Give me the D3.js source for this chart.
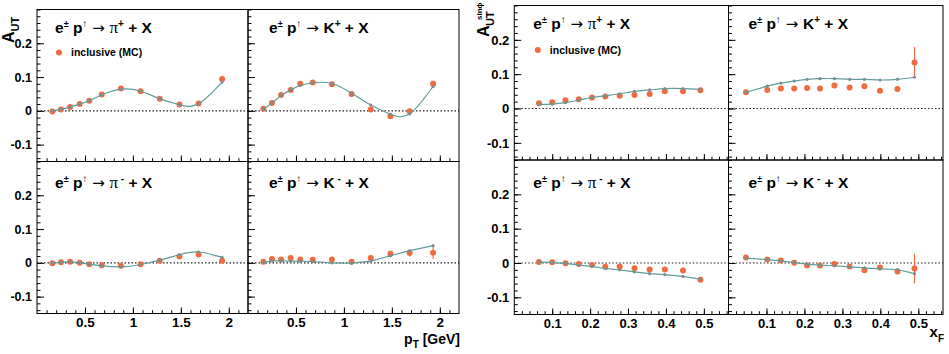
<!DOCTYPE html>
<html lang="en">
<head>
<meta charset="utf-8">
<title>A_UT vs pT and xF</title>
<script src="https://cdn.jsdelivr.net/npm/d3@7"></script>
<style>
  body { margin: 0; background: #fff; }
  svg { display: block; font-family: "Liberation Sans", Arial, sans-serif; font-weight: bold; }
</style>
</head>
<body>
<script>
// ---- data ----
var ptBins = [0.16, 0.25, 0.345, 0.445, 0.545, 0.675, 0.875, 1.08, 1.28, 1.485, 1.685, 1.93];
var xfBinsPi = [0.065, 0.1, 0.135, 0.17, 0.205, 0.24, 0.278, 0.317, 0.357, 0.397, 0.445, 0.491];
var xfBinsK = [0.046, 0.102, 0.138, 0.173, 0.207, 0.241, 0.279, 0.319, 0.358, 0.399, 0.445, 0.49];

// inclusive (MC) points and the curve through the grey markers
var piPlusPt = [-0.002, 0.004, 0.011, 0.020, 0.030, 0.048, 0.066, 0.058, 0.036, 0.019, 0.022, 0.094];
var piPlusPtErr = [0.002, 0.002, 0.002, 0.002, 0.002, 0.002, 0.002, 0.003, 0.003, 0.003, 0.004, 0.006];
var piPlusPtCurve = [-0.001, 0.005, 0.011, 0.020, 0.030, 0.047, 0.064, 0.058, 0.036, 0.018, 0.021, 0.085];

var kPlusPt = [0.006, 0.023, 0.047, 0.062, 0.080, 0.084, 0.079, 0.050, 0.004, -0.016, -0.001, 0.080];
var kPlusPtErr = [0.002, 0.002, 0.002, 0.002, 0.002, 0.002, 0.003, 0.003, 0.004, 0.005, 0.006, 0.009];
var kPlusPtCurve = [0.005, 0.023, 0.045, 0.062, 0.075, 0.083, 0.081, 0.052, 0.017, -0.010, -0.009, 0.072];

var piMinusPt = [-0.001, 0.002, 0.003, 0.0, -0.004, -0.007, -0.009, -0.004, 0.006, 0.019, 0.025, 0.006];
var piMinusPtErr = [0.002, 0.002, 0.002, 0.002, 0.002, 0.002, 0.002, 0.003, 0.003, 0.003, 0.004, 0.006];
var piMinusPtCurve = [-0.001, 0.002, 0.003, 0.0, -0.004, -0.009, -0.012, -0.005, 0.008, 0.024, 0.032, 0.016];

var kMinusPt = [0.003, 0.011, 0.010, 0.014, 0.010, 0.009, 0.010, 0.003, 0.014, 0.027, 0.029, 0.030];
var kMinusPtErr = [0.002, 0.002, 0.002, 0.002, 0.002, 0.002, 0.003, 0.003, 0.004, 0.006, 0.010, 0.018];
var kMinusPtCurve = [0.001, 0.006, 0.006, 0.005, 0.005, 0.004, 0.0, -0.001, 0.005, 0.021, 0.036, 0.051];

var piPlusXf = [0.015, 0.018, 0.024, 0.027, 0.032, 0.035, 0.037, 0.039, 0.042, 0.050, 0.050, 0.053];
var piPlusXfErr = [0.002, 0.002, 0.002, 0.002, 0.002, 0.002, 0.003, 0.003, 0.003, 0.003, 0.004, 0.006];
var piPlusXfCurve = [0.012, 0.013, 0.017, 0.024, 0.032, 0.037, 0.043, 0.050, 0.054, 0.058, 0.058, 0.056];

var kPlusXf = [0.047, 0.054, 0.058, 0.058, 0.060, 0.058, 0.067, 0.061, 0.065, 0.052, 0.057, 0.134];
var kPlusXfErr = [0.003, 0.004, 0.004, 0.004, 0.004, 0.004, 0.005, 0.005, 0.005, 0.006, 0.008, 0.045];
var kPlusXfCurve = [0.047, 0.065, 0.074, 0.080, 0.085, 0.087, 0.087, 0.085, 0.085, 0.083, 0.085, 0.091];

var piMinusXf = [0.003, 0.002, -0.001, -0.003, -0.006, -0.011, -0.010, -0.015, -0.019, -0.019, -0.022, -0.049];
var piMinusXfErr = [0.002, 0.002, 0.002, 0.002, 0.002, 0.002, 0.003, 0.003, 0.003, 0.003, 0.004, 0.005];
var piMinusXfCurve = [0.003, 0.001, -0.001, -0.006, -0.010, -0.016, -0.020, -0.026, -0.031, -0.034, -0.039, -0.047];

var kMinusXf = [0.016, 0.010, 0.007, 0.001, -0.007, -0.007, -0.003, -0.010, -0.021, -0.013, -0.025, -0.016];
var kMinusXfErr = [0.003, 0.003, 0.003, 0.003, 0.003, 0.003, 0.004, 0.004, 0.005, 0.005, 0.007, 0.043];
var kMinusXfCurve = [0.014, 0.010, 0.006, 0.001, -0.003, -0.006, -0.008, -0.011, -0.014, -0.017, -0.019, -0.031];

// tick labels
var yMajor = [-0.1, 0, 0.1, 0.2];
var yLabels = ["-0.1", "0", "0.1", "0.2"];
var ptMajor = [0.5, 1, 1.5, 2];
var ptLabels = ["0.5", "1", "1.5", "2"];
var xfMajor = [0.1, 0.2, 0.3, 0.4, 0.5];
var xfLabels = ["0.1", "0.2", "0.3", "0.4", "0.5"];

// ---- layout ----
var W = 949, H = 354;
var orange = "#f06b3f", teal = "#5f9c9c", grey = "#838c8c";

var blocks = {
  pt: { xs: [37, 248, 459], ys: [9.5, 161.5, 313.5], xdom: [0, 2.2],
        xMajor: ptMajor, xLabels: ptLabels, xMinor: d3.range(1, 22).map(function(i){ return i/10; }),
        fy: 12.5, fx: 13.5, titleX: [18, 21], titleY: [23, 26], leg: [22, 43] },
  xf: { xs: [514.3, 728.5, 943], ys: [5.5, 160, 314.5], xdom: [0, 0.565],
        xMajor: xfMajor, xLabels: xfLabels, xMinor: d3.range(1, 29).map(function(i){ return i/50; }),
        fy: 13, fx: 13, titleX: [19, 20], titleY: [23, 28], leg: [23.5, 44.5] }
};

var panels = [
  { b: "pt", c: 0, r: 0, p: "π", q: "+", x: ptBins, y: piPlusPt, e: piPlusPtErr, m: piPlusPtCurve, curve: d3.curveNatural, legend: true },
  { b: "pt", c: 1, r: 0, p: "K", q: "+", x: ptBins, y: kPlusPt, e: kPlusPtErr, m: kPlusPtCurve, curve: d3.curveNatural },
  { b: "pt", c: 0, r: 1, p: "π", q: "-", x: ptBins, y: piMinusPt, e: piMinusPtErr, m: piMinusPtCurve, curve: d3.curveNatural },
  { b: "pt", c: 1, r: 1, p: "K", q: "-", x: ptBins, y: kMinusPt, e: kMinusPtErr, m: kMinusPtCurve, curve: d3.curveLinear },
  { b: "xf", c: 0, r: 0, p: "π", q: "+", x: xfBinsPi, y: piPlusXf, e: piPlusXfErr, m: piPlusXfCurve, curve: d3.curveNatural, legend: true },
  { b: "xf", c: 1, r: 0, p: "K", q: "+", x: xfBinsK, y: kPlusXf, e: kPlusXfErr, m: kPlusXfCurve, curve: d3.curveNatural },
  { b: "xf", c: 0, r: 1, p: "π", q: "-", x: xfBinsPi, y: piMinusXf, e: piMinusXfErr, m: piMinusXfCurve, curve: d3.curveLinear },
  { b: "xf", c: 1, r: 1, p: "K", q: "-", x: xfBinsK, y: kMinusXf, e: kMinusXfErr, m: kMinusXfCurve, curve: d3.curveLinear }
];

var svg = d3.select("body").append("svg")
  .attr("width", W).attr("height", H);

panels.forEach(function(P) {
  var B = blocks[P.b];
  var x0 = B.xs[P.c], x1 = B.xs[P.c + 1], y0 = B.ys[P.r], y1 = B.ys[P.r + 1];
  var x = d3.scaleLinear().domain(B.xdom).range([x0, x1]);
  var y = d3.scaleLinear().domain([-0.15, 0.3]).range([y1, y0]);
  var g = svg.append("g");

  // zero line
  g.append("line")
    .attr("x1", x0).attr("x2", x1).attr("y1", y(0)).attr("y2", y(0))
    .attr("stroke", "#222").attr("stroke-width", 1.2).attr("stroke-dasharray", "1.5,2");

  // y axis: minor then major, ticks inside
  g.append("g").attr("transform", "translate(" + x0 + ",0)")
    .call(d3.axisLeft(y).tickValues(d3.range(-7, 16).map(function(i){ return i/50; }))
      .tickSize(-3.5).tickFormat(""))
    .call(function(s){ s.select(".domain").remove(); });
  var ya = g.append("g").attr("transform", "translate(" + x0 + ",0)")
    .call(d3.axisLeft(y).tickValues(yMajor).tickSize(-7).tickPadding(5)
      .tickFormat(function(d, i){ return P.c === 0 ? yLabels[i] : ""; }));
  ya.select(".domain").remove();
  ya.selectAll("text").attr("font-size", B.fy).attr("font-weight", "bold")
    .attr("font-family", "Liberation Sans, Arial, sans-serif").attr("fill", "#000");

  // x axis
  g.append("g").attr("transform", "translate(0," + y1 + ")")
    .call(d3.axisBottom(x).tickValues(B.xMinor).tickSize(-3.3).tickFormat(""))
    .call(function(s){ s.select(".domain").remove(); });
  var xa = g.append("g").attr("transform", "translate(0," + y1 + ")")
    .call(d3.axisBottom(x).tickValues(B.xMajor).tickSize(-6).tickPadding(4)
      .tickFormat(function(d, i){ return P.r === 1 ? B.xLabels[i] : ""; }));
  xa.select(".domain").remove();
  xa.selectAll("text").attr("font-size", B.fx).attr("font-weight", "bold")
    .attr("font-family", "Liberation Sans, Arial, sans-serif").attr("fill", "#000");

  // frame
  g.append("rect").attr("x", x0).attr("y", y0).attr("width", x1 - x0).attr("height", y1 - y0)
    .attr("fill", "none").attr("stroke", "#000").attr("stroke-width", 1);

  // MC points with error bars
  var pts = P.x.map(function(v, i){ return { x: v, y: P.y[i], e: P.e[i], m: P.m[i] }; });
  g.selectAll(".err").data(pts).enter().append("line")
    .attr("x1", function(d){ return x(d.x); }).attr("x2", function(d){ return x(d.x); })
    .attr("y1", function(d){ return y(d.y - d.e); }).attr("y2", function(d){ return y(d.y + d.e); })
    .attr("stroke", orange).attr("stroke-width", 1.2);
  g.selectAll(".dot").data(pts).enter().append("circle")
    .attr("cx", function(d){ return x(d.x); }).attr("cy", function(d){ return y(d.y); })
    .attr("r", 3).attr("fill", orange);

  // curve with grey markers
  g.append("path").datum(pts)
    .attr("d", d3.line().x(function(d){ return x(d.x); }).y(function(d){ return y(d.m); }).curve(P.curve))
    .attr("fill", "none").attr("stroke", teal).attr("stroke-width", 1.2);
  g.selectAll(".mk").data(pts).enter().append("circle")
    .attr("cx", function(d){ return x(d.x); }).attr("cy", function(d){ return y(d.m); })
    .attr("r", 1.6).attr("fill", grey);

  // title
  var t = g.append("text").attr("x", x0 + B.titleX[P.c]).attr("y", y0 + B.titleY[P.r])
    .attr("font-size", 15.5).attr("fill", "#000");
  t.append("tspan").text("e");
  t.append("tspan").attr("font-size", 9).attr("dy", -6).text("±");
  t.append("tspan").attr("dy", 6).text(" p");
  t.append("tspan").attr("font-size", 10).attr("font-weight", "normal").attr("dy", -6).text("↑");
  t.append("tspan").attr("dy", 6).attr("font-weight", "normal").attr("font-family", "DejaVu Sans").attr("font-size", 15).text(" → ");
  if (P.p === "π") {
    t.append("tspan").attr("font-family", "Liberation Serif, serif").attr("font-weight", "normal").attr("font-size", 17).text("π");
  } else {
    t.append("tspan").text("K");
  }
  t.append("tspan").attr("font-size", 10).attr("dy", -6).text(P.q === "+" ? "+" : " -");
  t.append("tspan").attr("dy", 6).text(" + X");

  // legend
  if (P.legend) {
    g.append("circle").attr("cx", x0 + B.leg[0]).attr("cy", y0 + B.leg[1]).attr("r", 3).attr("fill", orange);
    g.append("text").attr("x", x0 + B.leg[0] + 12).attr("y", y0 + B.leg[1] + 3.5)
      .attr("font-size", 10.5).text("inclusive (MC)");
  }
});

// axis titles
var yl = svg.append("text").attr("transform", "translate(14,43) rotate(-90)").attr("font-size", 16);
yl.append("tspan").text("A");
yl.append("tspan").attr("font-size", 11).attr("dy", 5).text("UT");

var yr = svg.append("g").attr("transform", "translate(489,37) rotate(-90)");
yr.append("text").attr("font-size", 16).text("A");
yr.append("text").attr("x", 11).attr("y", 5).attr("font-size", 11).text("UT");
yr.append("text").attr("x", 17).attr("y", -7).attr("font-size", 8).text("sinϕ");

var xl = svg.append("text").attr("x", 460).attr("y", 344).attr("text-anchor", "end").attr("font-size", 14);
xl.append("tspan").text("p");
xl.append("tspan").attr("font-size", 10).attr("dy", 4).text("T");
xl.append("tspan").attr("dy", -4).text(" [GeV]");

var xr = svg.append("text").attr("x", 944).attr("y", 337).attr("text-anchor", "end").attr("font-size", 15);
xr.append("tspan").text("x");
xr.append("tspan").attr("font-size", 10).attr("dy", 5).text("F");
</script>
</body>
</html>
